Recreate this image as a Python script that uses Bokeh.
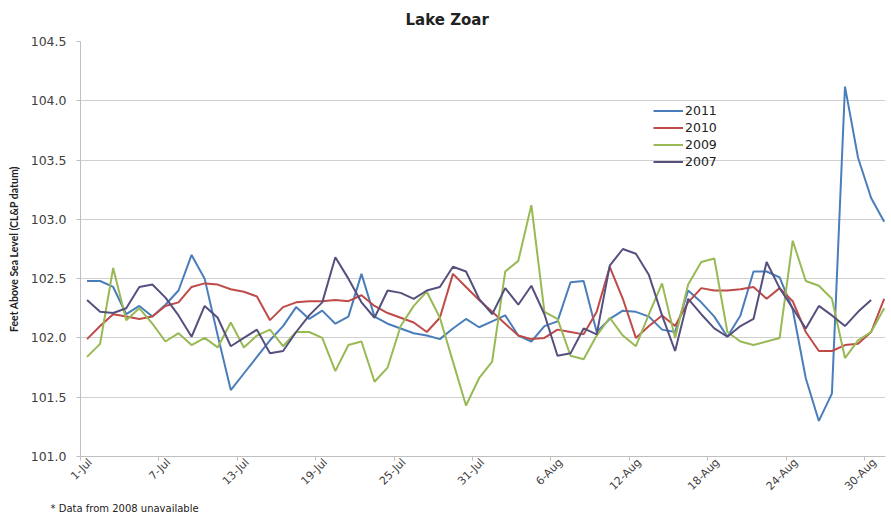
import math
from bokeh.plotting import figure
from bokeh.models import (Range1d, FixedTicker, Legend, LegendItem, Title,
                          NumeralTickFormatter, LinearAxis)
from bokeh.embed import file_html
from bokeh.resources import INLINE

# ---------------- data ----------------
tick_days = [0, 6, 12, 18, 24, 30, 36, 42, 48, 54, 60]
tick_labels = ["1-Jul", "7-Jul", "13-Jul", "19-Jul", "25-Jul", "31-Jul",
               "6-Aug", "12-Aug", "18-Aug", "24-Aug", "30-Aug"]
y_ticks = [101.0, 101.5, 102.0, 102.5, 103.0, 103.5, 104.0, 104.5]

y2011 = [102.48, 102.48, 102.43, 102.20, 102.27, 102.18, 102.28, 102.40, 102.70, 102.50,
         102.02, 101.56, 101.70, 101.84, 101.98, 102.10, 102.26, 102.16, 102.23, 102.12,
         102.18, 102.54, 102.18, 102.12, 102.08, 102.04, 102.02, 101.99, 102.08, 102.16,
         102.09, 102.14, 102.19, 102.02, 101.97, 102.10, 102.14, 102.47, 102.48, 102.05,
         102.16, 102.23, 102.22, 102.18, 102.07, 102.05, 102.40, 102.30, 102.18, 102.01,
         102.19, 102.56, 102.56, 102.51, 102.24, 101.66, 101.30, 101.53, 104.12, 103.52,
         103.18, 102.98]
y2010 = [101.99, 102.10, 102.20, 102.18, 102.16, 102.18, 102.27, 102.30, 102.43, 102.46,
         102.45, 102.41, 102.39, 102.35, 102.15, 102.26, 102.30, 102.31, 102.31, 102.32,
         102.31, 102.36, 102.27, 102.21, 102.17, 102.13, 102.05, 102.17, 102.54, 102.43,
         102.32, 102.22, 102.12, 102.02, 101.99, 102.00, 102.07, 102.05, 102.03, 102.22,
         102.60, 102.33, 102.00, 102.10, 102.19, 102.10, 102.30, 102.42, 102.40, 102.40,
         102.41, 102.43, 102.33, 102.42, 102.31, 102.05, 101.89, 101.89, 101.94, 101.95,
         102.05, 102.33]
y2009 = [101.84, 101.95, 102.59, 102.15, 102.25, 102.12, 101.97, 102.04, 101.94, 102.00,
         101.92, 102.13, 101.92, 102.02, 102.07, 101.93, 102.05, 102.05, 102.00, 101.72,
         101.94, 101.97, 101.63, 101.75, 102.10, 102.27, 102.39, 102.17, 101.80, 101.43,
         101.66, 101.80, 102.56, 102.65, 103.12, 102.22, 102.16, 101.85, 101.82, 102.02,
         102.17, 102.02, 101.93, 102.20, 102.46, 102.00, 102.45, 102.64, 102.67, 102.05,
         101.97, 101.94, 101.97, 102.00, 102.82, 102.48, 102.44, 102.33, 101.83, 101.98,
         102.05, 102.25]
y2007 = [102.32, 102.22, 102.21, 102.25, 102.43, 102.45, 102.34, 102.19, 102.01, 102.27,
         102.17, 101.93, 102.00, 102.07, 101.87, 101.89, 102.05, 102.19, 102.30, 102.68,
         102.50, 102.30, 102.17, 102.40, 102.38, 102.33, 102.40, 102.43, 102.60, 102.56,
         102.33, 102.20, 102.42, 102.28, 102.44, 102.20, 101.85, 101.87, 102.08, 102.03,
         102.61, 102.75, 102.71, 102.53, 102.19, 101.89, 102.33, 102.20, 102.08, 102.01,
         102.10, 102.16, 102.64, 102.42, 102.25, 102.08, 102.27, 102.19, 102.10, 102.22,
         102.32]

series_names = ["2011", "2010", "2009", "2007"]
series_values = [y2011, y2010, y2009, y2007]
colors = ["#4A7EBB", "#BE4B48", "#98B954", "#56507F"]
footnote = "* Data from 2008 unavailable"

FONT = "DejaVu Sans"
TXT = "#404040"
GRAY = "#BFBFBF"

p = figure(width=886, height=514, output_backend="svg", toolbar_location=None,
           x_range=Range1d(0, 61.6), y_range=Range1d(101.0, 104.5),
           x_axis_location=None,
           min_border_left=80, min_border_right=1, min_border_top=41,
           min_border_bottom=58, background_fill_color="white",
           border_fill_color="white", outline_line_color=None)

p.title = Title(text="Lake Zoar", align="left", vertical_align="top",
                text_font=FONT, text_font_size="15px", text_font_style="bold",
                text_color="#222222", standoff=21, offset=325)

items = []
for name, vals, col in zip(series_names, series_values, colors):
    xs = [i + 0.5 for i in range(len(vals))]
    r = p.line(xs, vals, line_color=col, line_width=2)
    items.append(LegendItem(label=name, renderers=[r]))

legend = Legend(items=items, location=(573, 286), background_fill_alpha=0,
                border_line_color=None, padding=0, margin=0, spacing=0,
                glyph_width=30, glyph_height=17, label_height=17,
                label_standoff=2, label_text_font=FONT,
                label_text_font_size="12.5px", label_text_color="#222222")
p.add_layout(legend, "center")

# x axis: tick marks at the category boundaries
ax_ticks = LinearAxis(ticker=FixedTicker(ticks=tick_days),
                      major_label_overrides={d: "" for d in tick_days},
                      major_label_text_font_size="1px", major_label_standoff=0,
                      axis_line_color=GRAY, major_tick_line_color=GRAY,
                      major_tick_out=4, major_tick_in=0,
                      minor_tick_line_color=None)
p.add_layout(ax_ticks, "below")

# x axis labels, slanted, their ends just right of the tick marks
lab_pos = [d + 0.75 for d in tick_days]
ax_labels = LinearAxis(ticker=FixedTicker(ticks=lab_pos),
                       major_label_overrides={pp: l for pp, l in zip(lab_pos, tick_labels)},
                       major_label_orientation=math.pi / 4,
                       major_label_text_font=FONT,
                       major_label_text_font_size="11px",
                       major_label_text_color=TXT,
                       major_label_standoff=0,
                       axis_line_color=None, major_tick_line_color=None,
                       major_tick_out=0, major_tick_in=0,
                       minor_tick_line_color=None)
p.add_layout(ax_labels, "below")

p.yaxis.ticker = FixedTicker(ticks=y_ticks)
p.yaxis.formatter = NumeralTickFormatter(format="0.0")
p.yaxis.major_label_text_font = FONT
p.yaxis.major_label_text_font_size = "12.5px"
p.yaxis.major_label_text_color = TXT
p.yaxis.axis_line_color = GRAY
p.yaxis.major_tick_line_color = GRAY
p.yaxis.major_tick_out = 4
p.yaxis.major_tick_in = 0
p.yaxis.minor_tick_line_color = None
p.yaxis.major_label_standoff = 10
p.yaxis.axis_label = "Feet Above Sea Level (CL&P datum)"
p.yaxis.axis_label_text_font = "Lato"
p.yaxis.axis_label_text_font_size = "10.5px"
p.yaxis.axis_label_text_font_style = "bold"
p.yaxis.axis_label_text_color = "#222222"
p.yaxis.axis_label_standoff = 8

p.xgrid.grid_line_color = None
p.ygrid.grid_line_color = "#D0D0D0"
p.ygrid.grid_line_width = 1

p.add_layout(Title(text=footnote, align="left", text_font=FONT,
                   text_font_size="10px", text_font_style="normal",
                   text_color="#222222", offset=-30, standoff=0), "below")

open("out.html", "w").write(file_html(p, INLINE))
